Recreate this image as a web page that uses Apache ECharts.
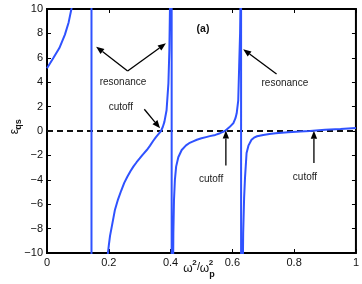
<!DOCTYPE html>
<html><head><meta charset="utf-8">
<script src="https://cdn.jsdelivr.net/npm/echarts@6/dist/echarts.min.js"></script>
<style>html,body{margin:0;padding:0;background:#fff}#c{width:362px;height:284px}</style>
</head><body><div id="c"></div>
<script>
// ---- data ----
const branch1X = [0, 0.02, 0.04, 0.058, 0.07, 0.079, 0.09, 0.10, 0.11, 0.12, 0.13, 0.138, 0.1438];
const branch1Y = [5.14, 5.96, 6.8, 7.9, 8.9, 10, 11.8, 14.3, 18.3, 25.7, 44, 100, 1000];
const branch2X = [0.1442, 0.15, 0.16, 0.17, 0.18, 0.19, 0.195, 0.20, 0.204, 0.21, 0.22, 0.23, 0.24, 0.25, 0.26, 0.27, 0.28, 0.29, 0.30, 0.31, 0.323, 0.333, 0.344, 0.352, 0.36, 0.369, 0.375, 0.38, 0.387, 0.393, 0.396, 0.398, 0.400, 0.402, 0.4033];
const branch2Y = [-1000, -100, -37, -22.5, -16, -12, -10.5, -9.4, -8.6, -7.8, -6.45, -5.6, -4.9, -4.25, -3.75, -3.3, -2.9, -2.56, -2.25, -1.93, -1.56, -1.22, -0.8, -0.52, -0.27, 0, 0.35, 0.75, 1.7, 3.9, 6.6, 10, 18, 50, 1000];
const branch3X = [0.4037, 0.405, 0.407, 0.409, 0.411, 0.414, 0.418, 0.425, 0.436, 0.45, 0.46, 0.473, 0.485, 0.50, 0.515, 0.527, 0.545, 0.56, 0.576, 0.59, 0.603, 0.61, 0.614, 0.619, 0.622, 0.625, 0.626, 0.627, 0.628];
const branch3Y = [-1000, -40, -15, -8.4, -5.7, -4.0, -2.92, -2.15, -1.56, -1.18, -1.0, -0.85, -0.72, -0.6, -0.5, -0.42, -0.32, -0.18, 0, 0.3, 0.63, 1.05, 1.45, 2.5, 5.3, 8, 9.9, 20, 1000];
const branch4X = [0.6285, 0.630, 0.632, 0.635, 0.638, 0.641, 0.646, 0.652, 0.662, 0.67, 0.68, 0.70, 0.72, 0.74, 0.78, 0.82, 0.851, 0.9, 0.95, 1.0];
const branch4Y = [-1000, -40, -15, -8.4, -5.5, -3.8, -1.8, -1.2, -0.72, -0.55, -0.43, -0.32, -0.25, -0.19, -0.1, -0.04, 0, 0.11, 0.17, 0.24];
const zeroLineX = [0, 1];
const zeroLineY = [0, 0];
const xTicks = [0, 0.2, 0.4, 0.6, 0.8, 1];
const yTicks = [-10, -8, -6, -4, -2, 0, 2, 4, 6, 8, 10];

// annotations (data coordinates)
const arrowFrom = [[0.261, 4.92], [0.261, 4.92], [0.315, 1.78], [0.743, 4.67], [0.579, -2.83], [0.864, -2.62]];
const arrowTo   = [[0.159, 6.91], [0.385, 7.19], [0.366, 0.22], [0.635, 6.70], [0.579, 0.05], [0.864, 0.02]];
const noteText  = ['resonance', 'cutoff', 'resonance', 'cutoff', 'cutoff'];
const notePos   = [[0.246, 4.02], [0.239, 1.97], [0.770, 3.93], [0.531, -3.93], [0.835, -3.77]];
const panelLabel = '(a)';
const panelPos = [0.505, 8.36];

// ---- build ----
function zip(xs, ys) { return xs.map((x, i) => [x, ys[i]]); }
const curve = [].concat(zip(branch1X, branch1Y), zip(branch2X, branch2Y), zip(branch3X, branch3Y), zip(branch4X, branch4Y));
const BLUE = '#2f52ff';
const FONT = '"Liberation Sans", Arial, Helvetica, sans-serif';

const chart = echarts.init(document.getElementById('c'), null, {renderer: 'canvas'});
const xBase = {
  type: 'value', min: xTicks[0], max: xTicks[xTicks.length - 1], interval: 0.2,
  axisLine: {show: false, onZero: false}, splitLine: {show: false},
  axisTick: {inside: true, length: 4, lineStyle: {color: '#000', width: 1}}
};
const yBase = {
  type: 'value', min: yTicks[0], max: yTicks[yTicks.length - 1], interval: 2,
  axisLine: {show: false, onZero: false}, splitLine: {show: false},
  axisTick: {inside: true, length: 4, lineStyle: {color: '#000', width: 1}}
};
chart.setOption({
  animation: false,
  backgroundColor: '#fff',
  grid: {left: 47, right: 6, top: 9, bottom: 31, show: true, borderColor: '#000', borderWidth: 2, backgroundColor: 'transparent'},
  xAxis: [
    Object.assign({}, xBase, {position: 'bottom', axisLabel: {margin: 4, fontSize: 11, color: '#111', fontFamily: FONT}}),
    Object.assign({}, xBase, {position: 'top', axisLabel: {show: false}})
  ],
  yAxis: [
    Object.assign({}, yBase, {position: 'left', axisLabel: {margin: 4, fontSize: 11, color: '#111', fontFamily: FONT,
      formatter: v => String(v).replace('-', '\u2212')}}),
    Object.assign({}, yBase, {position: 'right', axisLabel: {show: false}})
  ],
  series: [
    {type: 'line', data: zip(zeroLineX, zeroLineY), symbol: 'none', clip: true,
      lineStyle: {color: '#111', width: 1.8, type: [6, 4]}, z: 2},
    {type: 'line', data: curve, symbol: 'none', clip: true,
      lineStyle: {color: BLUE, width: 2}, z: 3}
  ]
});

const px = p => chart.convertToPixel({xAxisIndex: 0, yAxisIndex: 0}, p);
const g = [];
arrowFrom.forEach((f, i) => {
  const a = px(f), b = px(arrowTo[i]);
  const dx = b[0] - a[0], dy = b[1] - a[1], L = Math.hypot(dx, dy);
  const ux = dx / L, uy = dy / L, hl = 8, hw = 3.2;
  const bx = b[0] - ux * hl, by = b[1] - uy * hl;
  g.push({type: 'line', shape: {x1: a[0], y1: a[1], x2: bx, y2: by}, style: {stroke: '#000', lineWidth: 1.3}, z: 10});
  g.push({type: 'polygon', shape: {points: [[b[0], b[1]], [bx - uy * hw, by + ux * hw], [bx + uy * hw, by - ux * hw]]},
    style: {fill: '#000'}, z: 10});
});
noteText.forEach((t, i) => {
  const p = px(notePos[i]);
  g.push({type: 'text', x: p[0], y: p[1], style: {text: t, font: '10px ' + FONT, fill: '#222', align: 'center', verticalAlign: 'middle'}, z: 10});
});
const pp = px(panelPos);
g.push({type: 'text', x: pp[0], y: pp[1], style: {text: panelLabel, font: 'bold 10.5px ' + FONT, fill: '#111', align: 'center', verticalAlign: 'middle'}, z: 10});
// axis titles
g.push({type: 'text', x: 14.5, y: 131.5, rotation: Math.PI / 2, style: {text: '\u03b5', font: '12px ' + FONT, fill: '#111', align: 'center', verticalAlign: 'middle'}});
g.push({type: 'text', x: 18.5, y: 124.5, rotation: Math.PI / 2, style: {text: 'qs', font: 'bold 9px ' + FONT, fill: '#111', align: 'center', verticalAlign: 'middle'}});
g.push({type: 'text', x: 188, y: 268.5, style: {text: '\u03c9', font: '12px ' + FONT, fill: '#111', align: 'center', verticalAlign: 'middle'}});
g.push({type: 'text', x: 194.5, y: 262.5, style: {text: '2', font: 'bold 8px ' + FONT, fill: '#111', align: 'center', verticalAlign: 'middle'}});
g.push({type: 'text', x: 198.5, y: 266.5, style: {text: '/', font: '11px ' + FONT, fill: '#111', align: 'center', verticalAlign: 'middle'}});
g.push({type: 'text', x: 204.5, y: 268.5, style: {text: '\u03c9', font: '12px ' + FONT, fill: '#111', align: 'center', verticalAlign: 'middle'}});
g.push({type: 'text', x: 211, y: 262.5, style: {text: '2', font: 'bold 8px ' + FONT, fill: '#111', align: 'center', verticalAlign: 'middle'}});
g.push({type: 'text', x: 212, y: 275, style: {text: 'p', font: 'bold 9px ' + FONT, fill: '#111', align: 'center', verticalAlign: 'middle'}});
chart.setOption({graphic: g});
</script></body></html>
